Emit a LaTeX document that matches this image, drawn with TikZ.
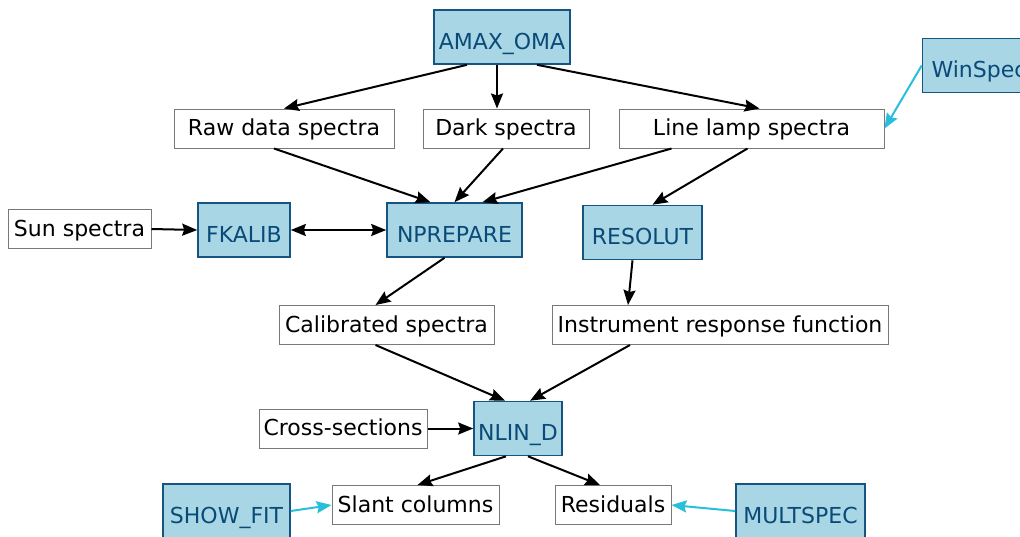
\documentclass[tikz,border=0pt]{standalone}
\usepackage{fontspec}
\setmainfont{DejaVu Sans}
\usetikzlibrary{arrows.meta, positioning, calc}
\definecolor{progfill}{RGB}{168,214,229}
\definecolor{progline}{RGB}{22,84,130}
\definecolor{progtext}{RGB}{10,74,120}
\definecolor{extcyan}{RGB}{40,190,220}
\definecolor{datline}{RGB}{120,120,120}
\tikzset{
  datbox/.style={rectangle, draw=datline, fill=white, line width=0.5pt,
    minimum height=19.5pt, inner sep=0pt, text height=9.3pt, text depth=2.3pt,
    font=\fontsize{11}{13}\selectfont},
  progbox/.style={rectangle, draw=progline, fill=progfill, line width=0.8pt,
    minimum height=27pt, inner sep=0pt, text=progtext,
    text height=12pt, text depth=0pt,
    font=\fontsize{11}{13}\selectfont},
  arrow/.style={-{Stealth[length=7.5pt, width=6pt, inset=1pt]}, line width=1pt, color=black},
  dblarrow/.style={{Stealth[length=7.5pt, width=6pt, inset=1pt]}-{Stealth[length=7.5pt, width=6pt, inset=1pt]}, line width=1pt, color=black},
  extarrow/.style={-{Stealth[length=7.5pt, width=6pt, inset=1pt]}, line width=1pt, color=extcyan}
}

\begin{document}
\begin{tikzpicture}[x=0.5pt, y=-0.5pt]
  \useasboundingbox (0,0) rectangle (1020,536);
  \clip (0,0) rectangle (1020,536);

  % programs
  \node[progbox, minimum width=68pt] (amax) at (502,37) {AMAX\_OMA};
  \node[progbox, minimum width=56.5pt] (winspec) at (979,65.5) {WinSpec};
  \node[progbox, minimum width=46pt] (fkalib) at (244,230) {FKALIB};
  \node[progbox, minimum width=67.5pt] (nprepare) at (454.5,230) {NPREPARE};
  \node[progbox, minimum width=59.5pt] (resolut) at (642.5,232.5) {RESOLUT};
  \node[progbox, minimum width=44pt] (nlind) at (518,428.5) {NLIN\_D};
  \node[progbox, minimum width=63.5pt] (showfit) at (226.5,511) {SHOW\_FIT};
  \node[progbox, minimum width=64.5pt] (multspec) at (800.5,511) {MULTSPEC};

  % data
  \node[datbox, minimum width=110pt] (raw) at (284,128.5) {Raw data spectra};
  \node[datbox, minimum width=83pt] (dark) at (506,128.5) {Dark spectra};
  \node[datbox, minimum width=132.5pt] (lamp) at (751.5,128.5) {Line lamp spectra};
  \node[datbox, minimum width=71.5pt] (sun) at (79.5,229) {Sun spectra};
  \node[datbox, minimum width=107.5pt] (calib) at (386.5,325) {Calibrated spectra};
  \node[datbox, minimum width=168pt] (instr) at (720,325) {Instrument response function};
  \node[datbox, minimum width=84pt] (cross) at (343,428.5) {Cross-sections};
  \node[datbox, minimum width=83.5pt] (slant) at (415.5,505) {Slant columns};
  \node[datbox, minimum width=58pt] (resid) at (613,505) {Residuals};

  % flow
  \draw[arrow] ([xshift=-17.5pt]amax.south) -- (raw.north);
  \draw[arrow] ([xshift=-2.5pt]amax.south) -- ([xshift=-2.5pt]amax.south |- dark.north);
  \draw[arrow] ([xshift=17.5pt]amax.south) -- ([xshift=4pt]lamp.north);
  \draw[extarrow] (winspec.west) -- (lamp.east);
  \draw[arrow] ([xshift=-5pt]raw.south) -- ([xshift=-12pt]nprepare.north);
  \draw[arrow] ([xshift=-1.5pt]dark.south) -- (nprepare.north);
  \draw[arrow] ([xshift=-40pt]lamp.south) -- ([xshift=14pt]nprepare.north);
  \draw[arrow] ([xshift=-2pt]lamp.south) -- ([xshift=5pt]resolut.north);
  \draw[arrow] (sun.east) -- (fkalib.west);
  \draw[dblarrow] (fkalib.east) -- (nprepare.west);
  \draw[arrow] ([xshift=-5pt]nprepare.south) -- ([xshift=-5.5pt]calib.north);
  \draw[arrow] ([xshift=-5pt]resolut.south) -- ([xshift=-46pt]instr.north);
  \draw[arrow] ([xshift=-5.5pt]calib.south) -- ([xshift=-6.5pt]nlind.north);
  \draw[arrow] ([xshift=-45pt]instr.south) -- ([xshift=6pt]nlind.north);
  \draw[arrow] (cross.east) -- (nlind.west);
  \draw[arrow] ([xshift=-6pt]nlind.south) -- ([xshift=1pt]slant.north);
  \draw[arrow] ([xshift=5pt]nlind.south) -- ([xshift=-6.5pt]resid.north);
  \draw[extarrow] (showfit.east) -- (slant.west);
  \draw[extarrow] (multspec.west) -- (resid.east);
\end{tikzpicture}
\end{document}
